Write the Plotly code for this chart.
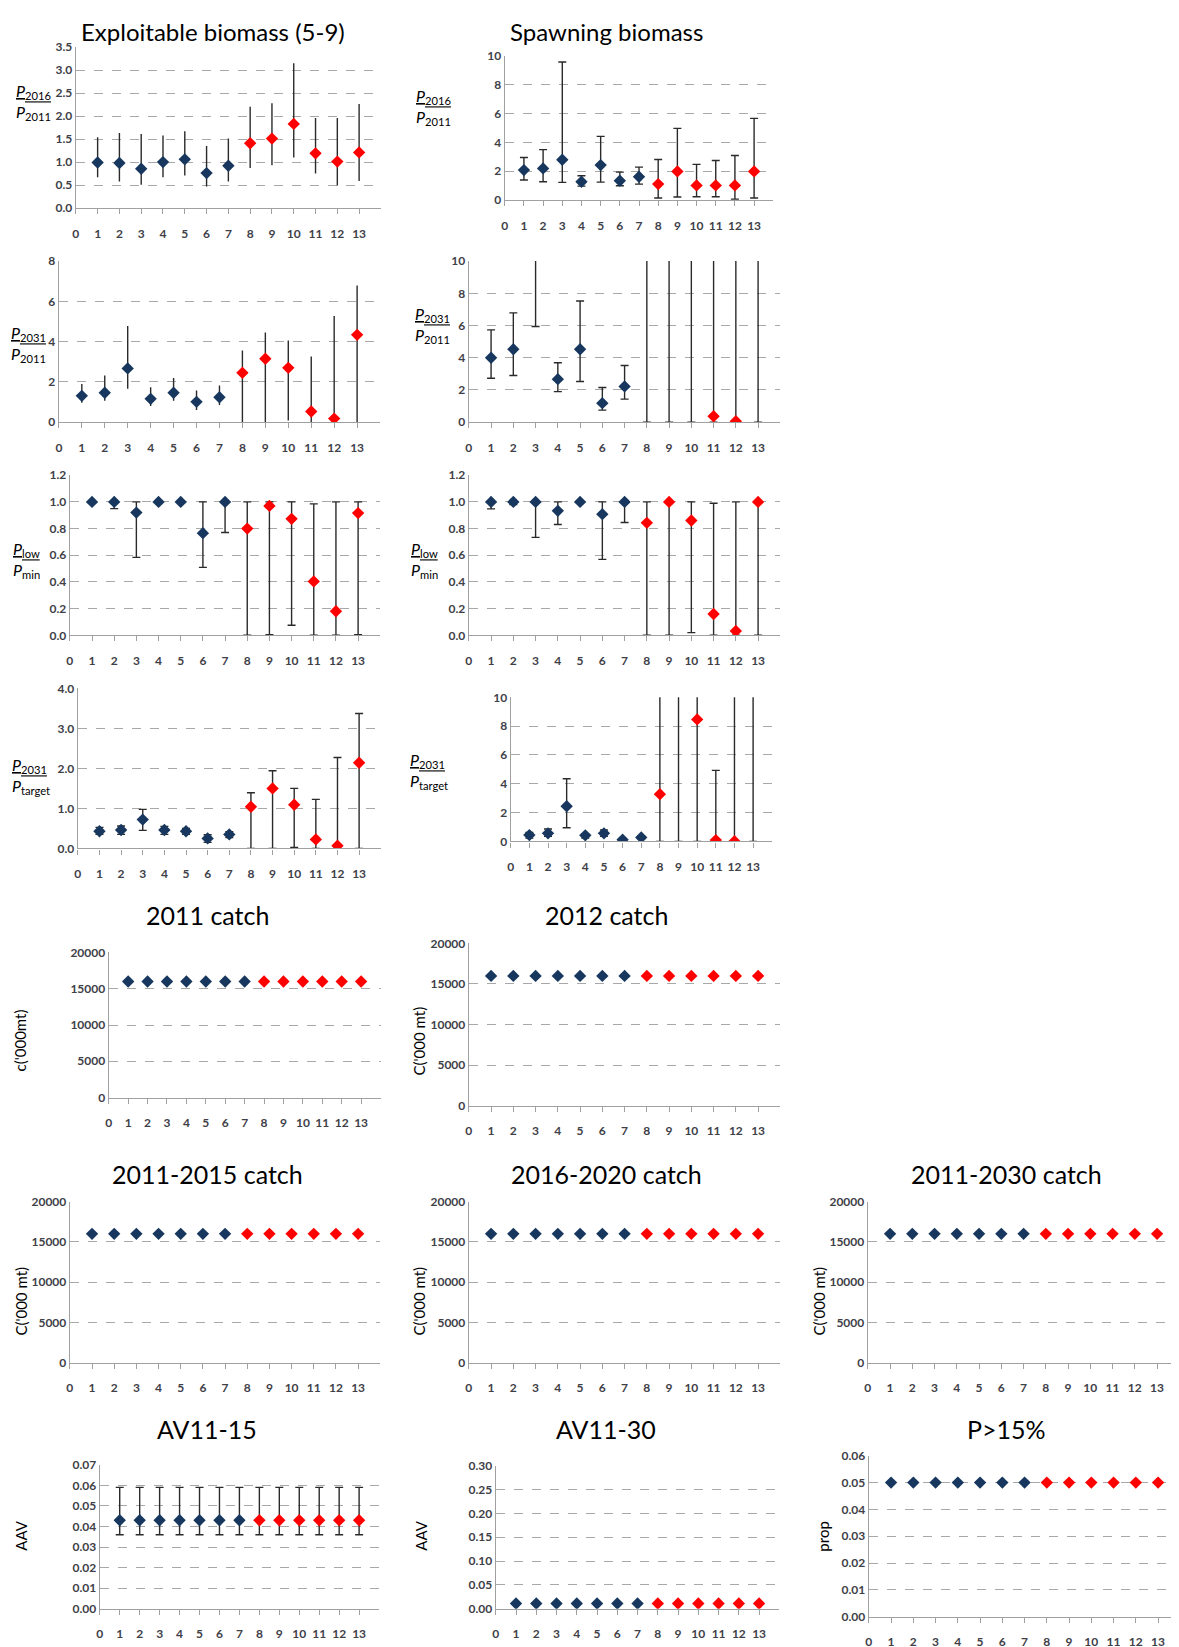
import plotly.graph_objects as go

FW, FH = 1179, 1647
# measured page -> photo mapping (photo_y = 16 + 0.9904*fig_y, photo_x = 9 + fig_x)
Y_OFF, Y_SCALE, X_OFF = 16.0, 0.9904, 9.0

scenarios = list(range(1, 14))
N_BLUE = 7
x_ticks = list(range(0, 14))

# ---- data (median, lower, upper) ----
eb2016_med = [0.99, 0.98, 0.855, 1.00, 1.06, 0.76, 0.92, 1.41, 1.51, 1.83, 1.19, 1.01, 1.21]
eb2016_lo = [0.67, 0.58, 0.51, 0.67, 0.71, 0.47, 0.58, 0.87, 0.93, 1.10, 0.75, 0.49, 0.59]
eb2016_hi = [1.54, 1.63, 1.61, 1.58, 1.67, 1.35, 1.51, 2.20, 2.28, 3.15, 1.96, 1.96, 2.26]

sb2016_med = [2.08, 2.20, 2.80, 1.27, 2.43, 1.34, 1.62, 1.11, 1.99, 1.02, 1.02, 1.02, 1.99]
sb2016_lo = [1.39, 1.27, 1.23, 0.97, 1.25, 1.00, 1.11, 0.14, 0.21, 0.23, 0.23, 0.07, 0.14]
sb2016_hi = [2.96, 3.50, 9.58, 1.69, 4.42, 1.94, 2.29, 2.82, 4.98, 2.48, 2.75, 3.10, 5.67]

eb2031_med = [1.31, 1.46, 2.67, 1.16, 1.46, 1.01, 1.24, 2.45, 3.15, 2.70, 0.53, 0.18, 4.34]
eb2031_lo = [0.96, 1.06, 1.66, 0.81, 1.06, 0.61, 0.86, 0.00, 0.00, 0.08, 0.00, 0.00, 0.00]
eb2031_hi = [1.90, 2.32, 4.78, 1.74, 2.19, 1.57, 1.82, 3.56, 4.45, 4.06, 3.26, 5.28, 6.79]

sb2031_med = [4.00, 4.53, 12.0, 2.67, 4.53, 1.18, 2.22, 14.0, 15.0, 16.0, 0.37, 0.06, 18.0]
sb2031_lo = [2.73, 2.90, 5.94, 1.90, 2.53, 0.75, 1.43, 0.00, 0.00, 0.00, 0.00, 0.00, 0.00]
sb2031_hi = [5.73, 6.79, 20.0, 3.69, 7.52, 2.15, 3.52, 30.0, 30.0, 30.0, 25.0, 25.0, 30.0]

ebmin_med = [1.00, 1.00, 0.92, 1.00, 1.00, 0.766, 1.00, 0.80, 0.97, 0.873, 0.404, 0.18, 0.916]
ebmin_lo = [1.00, 0.95, 0.584, 1.00, 1.00, 0.509, 0.771, 0.00, 0.005, 0.075, 0.00, 0.00, 0.005]
ebmin_hi = [1.00, 1.00, 1.00, 1.00, 1.00, 1.00, 1.00, 1.00, 1.00, 1.00, 0.985, 1.00, 1.00]

sbmin_med = [1.00, 1.00, 1.00, 0.933, 1.00, 0.908, 1.00, 0.843, 1.00, 0.861, 0.16, 0.032, 1.00]
sbmin_lo = [0.948, 0.98, 0.734, 0.831, 1.00, 0.569, 0.846, 0.00, 0.00, 0.02, 0.00, 0.00, 0.00]
sbmin_hi = [1.00, 1.00, 1.00, 1.00, 1.00, 1.00, 1.00, 1.00, 1.00, 1.00, 0.99, 1.00, 1.00]

ebtgt_med = [0.43, 0.46, 0.72, 0.46, 0.43, 0.25, 0.35, 1.04, 1.50, 1.09, 0.225, 0.067, 2.14]
ebtgt_lo = [0.35, 0.35, 0.45, 0.35, 0.35, 0.15, 0.27, 0.00, 0.00, 0.025, 0.00, 0.00, 0.00]
ebtgt_hi = [0.525, 0.56, 0.975, 0.55, 0.50, 0.34, 0.42, 1.39, 1.94, 1.50, 1.225, 2.27, 3.37]

sbtgt_med = [0.44, 0.56, 2.44, 0.42, 0.56, 0.12, 0.28, 3.28, 14.0, 8.47, 0.09, 0.01, 16.0]
sbtgt_lo = [0.23, 0.35, 0.95, 0.23, 0.35, 0.05, 0.18, 0.00, 0.00, 0.00, 0.00, 0.00, 0.00]
sbtgt_hi = [0.63, 0.86, 4.35, 0.53, 0.79, 0.20, 0.36, 30.0, 30.0, 30.0, 4.93, 30.0, 30.0]

catch2011 = [16000] * 13
catch2012 = [16000] * 13
catch2011_15 = [16000] * 13
catch2016_20 = [16000] * 13
catch2011_30 = [16000] * 13

av1115_med = [0.043] * 13
av1115_lo = [0.036] * 13
av1115_hi = [0.059] * 13

av1130_med = [0.011] * 13
av1130_lo = [0.009] * 13
av1130_hi = [0.013] * 13

p15 = [0.05] * 13

NAVY = "#17375E"
RED = "#FF0000"
GRAY = "#A0A0A0"
TICKC = "#404048"
FONT = "Lato"


def fx(x):
    return x - X_OFF


def fy(y):
    return (y - Y_OFF) / Y_SCALE


def px(x):
    return fx(x) / FW


def py(y):
    return 1 - fy(y) / FH


# panel geometry in target pixels: x at value 0, x at value 13, top, bottom
panels = [
    dict(g=(74, 358, 47, 208), yr=3.5, dt=0.5, fmt=".1f", d=(eb2016_med, eb2016_lo, eb2016_hi), cap=0),
    dict(g=(504, 754, 56, 200), yr=10, dt=2, fmt="d", d=(sb2016_med, sb2016_lo, sb2016_hi), cap=4),
    dict(g=(57, 356, 261, 422), yr=8, dt=2, fmt="d", d=(eb2031_med, eb2031_lo, eb2031_hi), cap=0),
    dict(g=(468, 758, 261, 422), yr=10, dt=2, fmt="d", d=(sb2031_med, sb2031_lo, sb2031_hi), cap=4),
    dict(g=(68, 357, 475, 635), yr=1.2, dt=0.2, fmt=".1f", d=(ebmin_med, ebmin_lo, ebmin_hi), cap=4),
    dict(g=(468, 758, 475, 635), yr=1.2, dt=0.2, fmt=".1f", d=(sbmin_med, sbmin_lo, sbmin_hi), cap=4),
    dict(g=(76, 358, 688, 848), yr=4, dt=1, fmt=".1f", d=(ebtgt_med, ebtgt_lo, ebtgt_hi), cap=4),
    dict(g=(510, 753, 697, 841), yr=10, dt=2, fmt="d", d=(sbtgt_med, sbtgt_lo, sbtgt_hi), cap=4),
    dict(g=(107, 360, 952, 1097), yr=20000, dt=5000, fmt="d", d=(catch2011, None, None), cap=0),
    dict(g=(468, 758, 943, 1105), yr=20000, dt=5000, fmt="d", d=(catch2012, None, None), cap=0),
    dict(g=(68, 357, 1201, 1362), yr=20000, dt=5000, fmt="d", d=(catch2011_15, None, None), cap=0),
    dict(g=(468, 758, 1201, 1362), yr=20000, dt=5000, fmt="d", d=(catch2016_20, None, None), cap=0),
    dict(g=(868, 1158, 1201, 1362), yr=20000, dt=5000, fmt="d", d=(catch2011_30, None, None), cap=0),
    dict(g=(98, 358, 1464, 1608), yr=0.07, dt=0.01, fmt=".2f", d=(av1115_med, av1115_lo, av1115_hi), cap=4),
    dict(g=(495, 759, 1465, 1608), yr=0.30, dt=0.05, fmt=".2f", d=(av1130_med, av1130_lo, av1130_hi), cap=3),
    dict(g=(869, 1159, 1455, 1616), yr=0.06, dt=0.01, fmt=".2f", d=(p15, None, None), cap=0),
]

fig = go.Figure()
layout = {}
for i, p in enumerate(panels, start=1):
    x0, x13, yt, yb = p["g"]
    unit = (x13 - x0) / 13.0
    x1 = min(x0 + 14 * unit, 1172)
    xr = (x1 - x0) / unit
    sx = "" if i == 1 else str(i)
    med, lo, hi = p["d"]
    for a, b, col in [(0, N_BLUE, NAVY), (N_BLUE, 13, RED)]:
        tr = dict(
            x=scenarios[a:b], y=med[a:b], mode="markers",
            marker=dict(symbol="diamond", size=9.5, color=col),
            xaxis="x" + sx, yaxis="y" + sx, showlegend=False,
        )
        if lo is not None:
            tr["error_y"] = dict(
                type="data", symmetric=False,
                array=[h - m for h, m in zip(hi[a:b], med[a:b])],
                arrayminus=[m - l for m, l in zip(med[a:b], lo[a:b])],
                color="#2a2a2a", thickness=1.4, width=p["cap"],
            )
        fig.add_trace(go.Scatter(**tr))
    layout["xaxis" + sx] = dict(
        domain=[px(x0), px(x1)], range=[0, xr], anchor="y" + sx,
        tickvals=x_ticks, ticks="outside", ticklen=5, tickcolor=GRAY,
        showline=True, linecolor=GRAY, linewidth=1.3, showgrid=False, zeroline=False,
        tickfont=dict(family=FONT, size=12, color=TICKC, weight="bold"),
        ticklabelstandoff=9, fixedrange=True,
    )
    layout["yaxis" + sx] = dict(
        domain=[py(yb), py(yt)], range=[0, p["yr"]], anchor="x" + sx,
        dtick=p["dt"], tick0=0, tickformat=p["fmt"], ticks="",
        showline=True, linecolor=GRAY, linewidth=1.3,
        showgrid=True, gridcolor="#A8A8A8", griddash="dash", gridwidth=1,
        zeroline=False,
        tickfont=dict(family=FONT, size=12, color=TICKC, weight="bold"),
        fixedrange=True,
    )

annotations = []
top_titles = [("Exploitable biomass (5-9)", 212), ("Spawning biomass", 606)]
for t, x in top_titles:
    annotations.append(dict(text=t, x=px(x), y=1.0, xref="paper", yref="paper",
                            xanchor="center", yanchor="top", showarrow=False, borderpad=0,
                            font=dict(family=FONT, size=24, color="#000000")))
titles = [
    ("2011 catch", 206, 915),
    ("2012 catch", 606, 915),
    ("2011-2015 catch", 206, 1173),
    ("2016-2020 catch", 606, 1173),
    ("2011-2030 catch", 1007, 1173),
    ("AV11-15", 206, 1428),
    ("AV11-30", 606, 1428),
    ("P>15%", 1007, 1428),
]
for t, x, y in titles:
    annotations.append(dict(text=t, x=px(x), y=py(y), xref="paper", yref="paper",
                            xanchor="center", yanchor="middle", showarrow=False,
                            font=dict(family=FONT, size=25, color="#000000")))

fracs = [
    ("2016", "2011", 32, 102),
    ("2016", "2011", 433, 107),
    ("2031", "2011", 27, 344),
    ("2031", "2011", 432, 325),
    ("low", "min", 25, 560),
    ("low", "min", 424, 560),
    ("2031", "target", 29, 776),
    ("2031", "target", 428, 771),
]
for num, den, x, y in fracs:
    txt = "<u><i>P</i><sub>%s</sub></u><br><i>P</i><sub>%s</sub>" % (num, den)
    annotations.append(dict(text=txt, x=px(x), y=py(y), xref="paper", yref="paper",
                            xanchor="center", yanchor="middle", showarrow=False, align="left",
                            font=dict(family=FONT, size=16, color="#000000")))

rot = [
    ("c('000mt)", 18, 1040),
    ("C('000 mt)", 418, 1040),
    ("C('000 mt)", 19, 1300),
    ("C('000 mt)", 418, 1300),
    ("C('000 mt)", 819, 1300),
    ("AAV", 19, 1534),
    ("AAV", 420, 1534),
    ("prop", 823, 1536),
]
for t, x, y in rot:
    annotations.append(dict(text=t, x=px(x), y=py(y), xref="paper", yref="paper",
                            xanchor="center", yanchor="middle", showarrow=False, textangle=-90,
                            font=dict(family=FONT, size=15, color="#000000")))

fig.update_layout(
    width=FW, height=FH, margin=dict(l=0, r=0, t=0, b=0),
    paper_bgcolor="white", plot_bgcolor="white",
    annotations=annotations,
    **layout,
)
fig.write_html("out.html")
